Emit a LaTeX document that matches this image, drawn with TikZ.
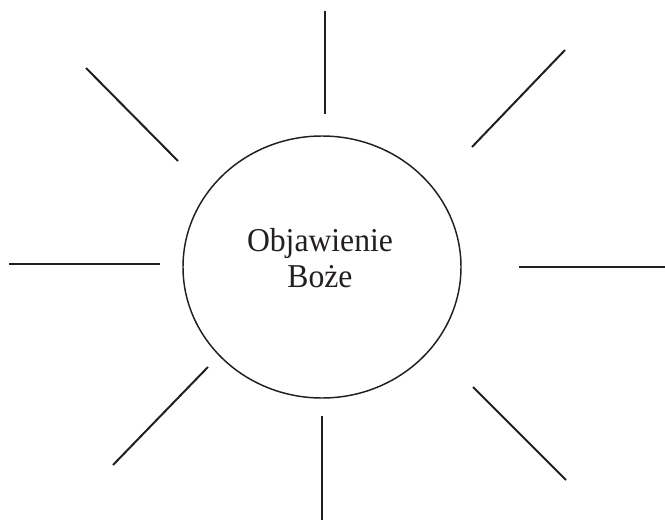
\documentclass[tikz,border=0pt]{standalone}
\usepackage{fontspec}
\setmainfont{Liberation Serif}
\newfontfamily\titlefont[FakeStretch=0.95]{Liberation Serif}
\usetikzlibrary{shapes.geometric}
\definecolor{inkcol}{RGB}{35, 31, 32}

\begin{document}
\begin{tikzpicture}[x=0.75pt, y=-0.75pt, inkcol]
        \useasboundingbox (0,0) rectangle (665,521);

        % Sun body
        \node[draw, line width=1.1pt, ellipse, minimum width=208.5pt, minimum height=196.5pt, inner sep=0pt] (sun) at (322,267) {};
        \node[font=\titlefont\fontsize{25}{27}\selectfont, align=center] (title) at (320,258) {Objawienie\\Boże};

        % Rays
        \foreach \xa/\ya/\xb/\yb in {325/11/325/114, 565/50/472/147, 519/267/665/267, 473/387/566/480,
                                     322/416/322/520, 208/367/113/465, 9/264/160/264, 86/68/178/161}
          \draw[line width=1.5pt] (\xa,\ya) -- (\xb,\yb);
      \end{tikzpicture}
\end{document}
